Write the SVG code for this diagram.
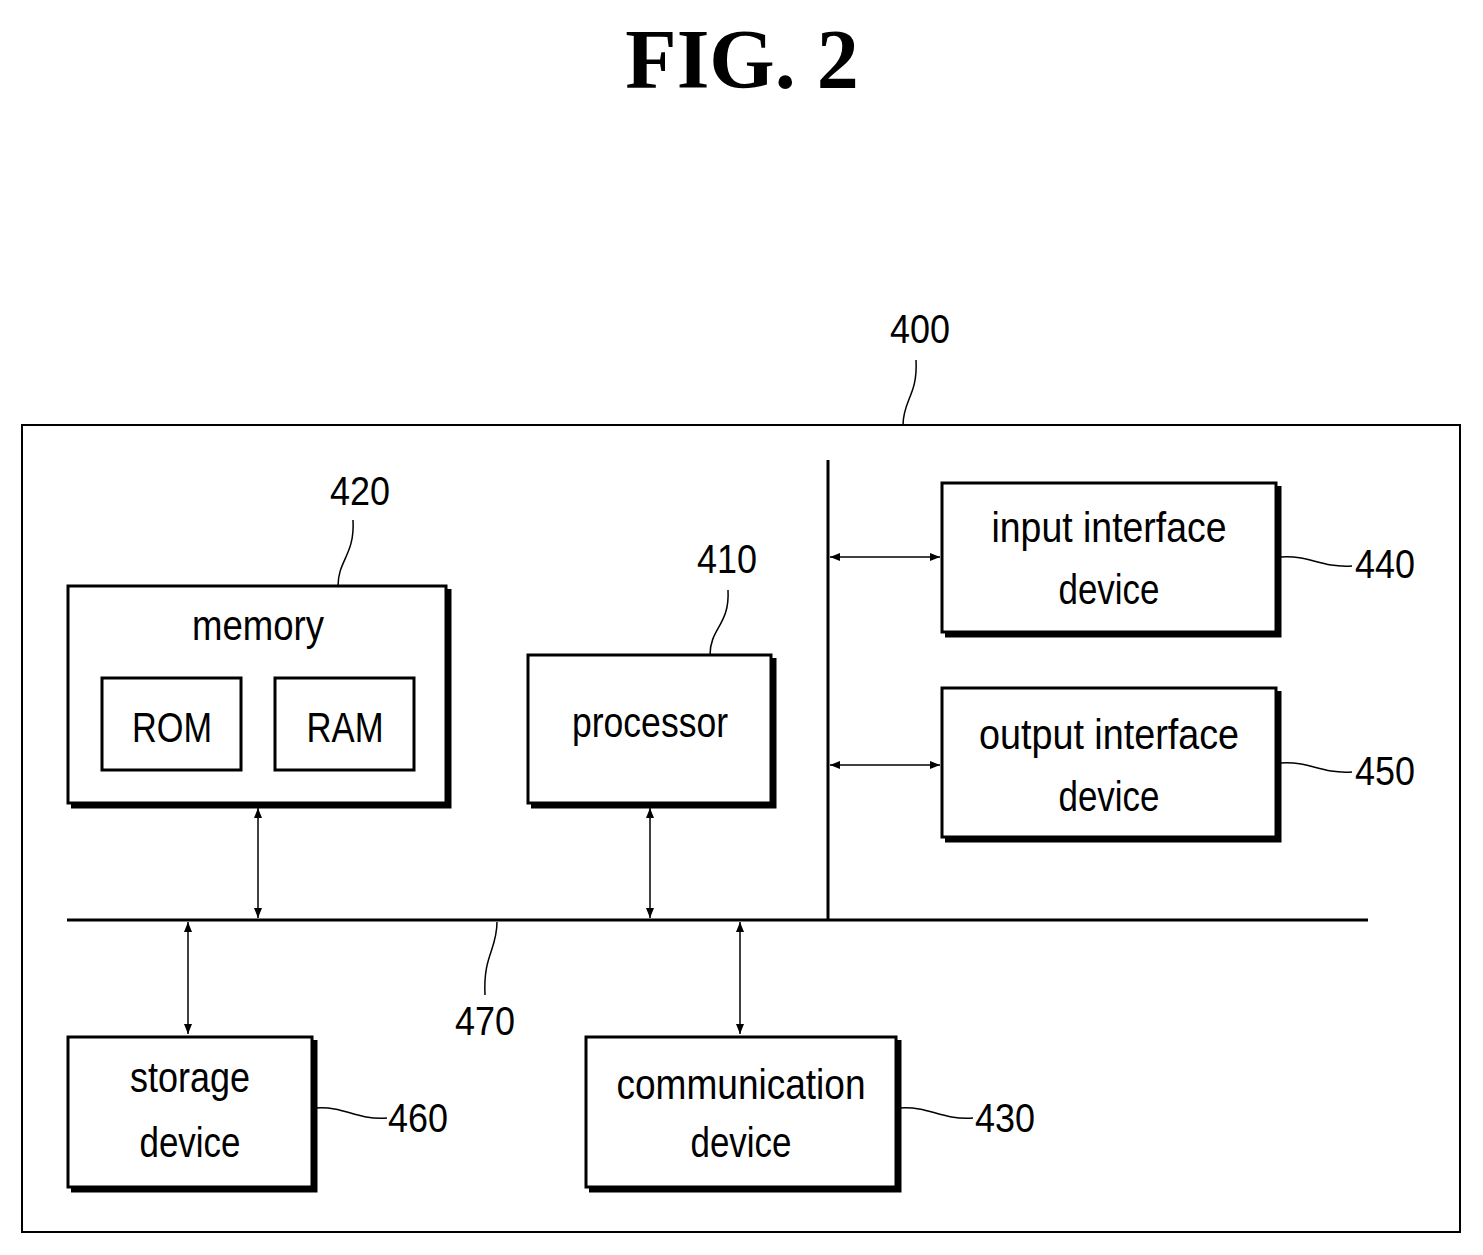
<svg xmlns="http://www.w3.org/2000/svg" width="1483" height="1255" viewBox="0 0 1483 1255">
<style>
.t{font-family:"Liberation Sans",Arial,sans-serif;font-size:42px;fill:#000;text-anchor:middle}
.n{font-family:"Liberation Sans",Arial,sans-serif;font-size:40px;fill:#000}
.b{fill:#fff;stroke:#000;stroke-width:3}
.s{fill:none;stroke:#000;stroke-width:5}
.l{fill:none;stroke:#000;stroke-width:1.5}
.a{stroke:#000;stroke-width:1.5;marker-start:url(#ah);marker-end:url(#ah)}
</style>
<defs>
<marker id="ah" viewBox="0 0 10 10" refX="10" refY="5" markerWidth="22" markerHeight="10" markerUnits="userSpaceOnUse" orient="auto-start-reverse"><path d="M0,1 L10,5 L0,9 z" fill="#000"/></marker>
</defs>
<text x="742" y="88" font-family="Liberation Serif,serif" font-weight="bold" font-size="84" text-anchor="middle">FIG. 2</text>
<g id="n400"><rect x="22" y="425" width="1438" height="807" fill="none" stroke="#000" stroke-width="2"/>
<text class="n" x="920" y="343" text-anchor="middle" textLength="60" lengthAdjust="spacingAndGlyphs">400</text>
<path class="l" d="M903,425 C903,400 918,395 916,360"/></g>
<g id="n420"><rect class="b" x="68" y="586" width="378" height="217"/><path class="s" d="M449,589 V806 H71"/>
<text class="t" x="258" y="640" textLength="132" lengthAdjust="spacingAndGlyphs">memory</text>
<rect class="b" x="102" y="678" width="139" height="92"/><text class="t" x="172" y="742" textLength="80" lengthAdjust="spacingAndGlyphs">ROM</text>
<rect class="b" x="275" y="678" width="139" height="92"/><text class="t" x="345" y="742" textLength="77" lengthAdjust="spacingAndGlyphs">RAM</text>
<text class="n" x="360" y="505" text-anchor="middle" textLength="60" lengthAdjust="spacingAndGlyphs">420</text>
<path class="l" d="M338,586 C338,560 355,555 353,520"/></g>
<g id="n410"><rect class="b" x="528" y="655" width="243" height="148"/><path class="s" d="M774,658 V806 H531"/>
<text class="t" x="650" y="737" textLength="156" lengthAdjust="spacingAndGlyphs">processor</text>
<text class="n" x="727" y="573" text-anchor="middle" textLength="60" lengthAdjust="spacingAndGlyphs">410</text>
<path class="l" d="M710,655 C710,628 730,625 728,590"/></g>
<g id="n440"><rect class="b" x="942" y="483" width="334" height="149"/><path class="s" d="M1279,486 V635 H945"/>
<text class="t" x="1109" y="542" textLength="235" lengthAdjust="spacingAndGlyphs">input interface</text>
<text class="t" x="1109" y="604" textLength="101" lengthAdjust="spacingAndGlyphs">device</text>
<text class="n" x="1385" y="578" text-anchor="middle" textLength="60" lengthAdjust="spacingAndGlyphs">440</text>
<path class="l" d="M1281,557 C1310,555 1320,568 1352,566"/></g>
<g id="n450"><rect class="b" x="942" y="688" width="334" height="149"/><path class="s" d="M1279,691 V840 H945"/>
<text class="t" x="1109" y="749" textLength="260" lengthAdjust="spacingAndGlyphs">output interface</text>
<text class="t" x="1109" y="811" textLength="101" lengthAdjust="spacingAndGlyphs">device</text>
<text class="n" x="1385" y="785" text-anchor="middle" textLength="60" lengthAdjust="spacingAndGlyphs">450</text>
<path class="l" d="M1281,763 C1310,761 1320,774 1352,772"/></g>
<g id="n460"><rect class="b" x="68" y="1037" width="244" height="150"/><path class="s" d="M315,1040 V1190 H71"/>
<text class="t" x="190" y="1092" textLength="120" lengthAdjust="spacingAndGlyphs">storage</text>
<text class="t" x="190" y="1157" textLength="101" lengthAdjust="spacingAndGlyphs">device</text>
<text class="n" x="418" y="1132" text-anchor="middle" textLength="60" lengthAdjust="spacingAndGlyphs">460</text>
<path class="l" d="M316,1108 C345,1106 355,1120 387,1118"/></g>
<g id="n430"><rect class="b" x="586" y="1037" width="310" height="150"/><path class="s" d="M899,1040 V1190 H589"/>
<text class="t" x="741" y="1099" textLength="249" lengthAdjust="spacingAndGlyphs">communication</text>
<text class="t" x="741" y="1157" textLength="101" lengthAdjust="spacingAndGlyphs">device</text>
<text class="n" x="1005" y="1132" text-anchor="middle" textLength="60" lengthAdjust="spacingAndGlyphs">430</text>
<path class="l" d="M900,1108 C930,1106 940,1120 973,1118"/></g>
<g id="n470"><text class="n" x="485" y="1035" text-anchor="middle" textLength="60" lengthAdjust="spacingAndGlyphs">470</text>
<path class="l" d="M497,922 C497,950 483,955 485,995"/></g>
<g id="connectors">
<line x1="67" y1="920" x2="1368" y2="920" stroke="#000" stroke-width="3"/>
<line x1="828" y1="460" x2="828" y2="920" stroke="#000" stroke-width="3"/>
<line class="a" x1="258" y1="808" x2="258" y2="918"/>
<line class="a" x1="650" y1="808" x2="650" y2="918"/>
<line class="a" x1="188" y1="922" x2="188" y2="1034"/>
<line class="a" x1="740" y1="922" x2="740" y2="1034"/>
<line class="a" x1="830" y1="557" x2="940" y2="557"/>
<line class="a" x1="830" y1="765" x2="940" y2="765"/>
</g>
</svg>
